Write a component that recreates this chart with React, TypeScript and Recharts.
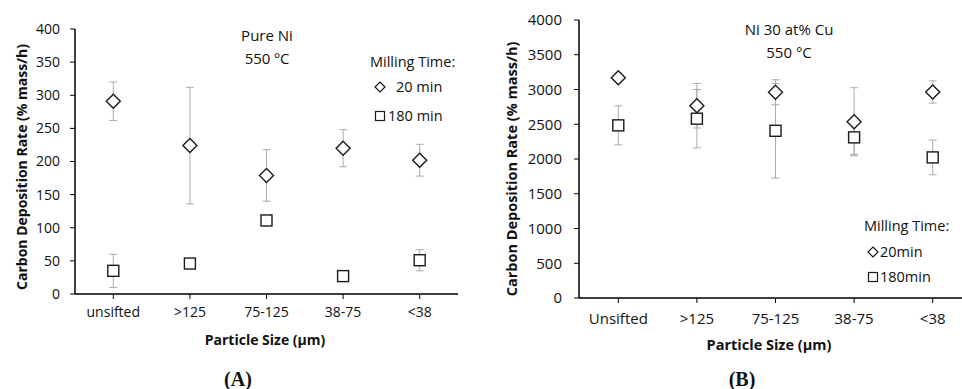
import React from 'react';
import { ComposedChart, Line, XAxis, YAxis, ErrorBar } from 'recharts';

const categoriesA = ['unsifted', '>125', '75-125', '38-75', '<38'];
const pureNi20 = [291, 224, 179, 220, 202];
const pureNi20Err = [29, 88, 39, 28, 24];
const pureNi180 = [35, 46, 111, 27, 51];
const pureNi180Err = [25, 5, 3, 3, 16];
const ticksA = [0, 50, 100, 150, 200, 250, 300, 350, 400];

const categoriesB = ['Unsifted', '>125', '75-125', '38-75', '<38'];
const niCu20 = [3170, 2766, 2960, 2536, 2964];
const niCu20Err = [0, 320, 180, 490, 160];
const niCu180 = [2484, 2580, 2406, 2311, 2023];
const niCu180Err = [280, 420, 680, 245, 250];
const ticksB = [0, 500, 1000, 1500, 2000, 2500, 3000, 3500, 4000];

const dataA = categoriesA.map((c, i) => ({
  cat: c,
  v20: pureNi20[i],
  e20: pureNi20Err[i],
  v180: pureNi180[i],
  e180: pureNi180Err[i],
}));

const dataB = categoriesB.map((c, i) => ({
  cat: c,
  v20: niCu20[i],
  e20: niCu20Err[i],
  v180: niCu180[i],
  e180: niCu180Err[i],
}));

const FONT = '"Open Sans", Lato, sans-serif';
const MARK = '#1a1a1a';
const ERR = '#ababab';

const Diamond = (props: any) => {
  const { cx, cy, index } = props;
  if (cx == null || cy == null) return <g key={`d${index}`} />;
  const r = 7;
  return (
    <path
      key={`d${index}`}
      d={`M${cx},${cy - r} L${cx + r},${cy} L${cx},${cy + r} L${cx - r},${cy} Z`}
      fill="#fff"
      stroke={MARK}
      strokeWidth={1.4}
    />
  );
};

const Square = (props: any) => {
  const { cx, cy, index } = props;
  if (cx == null || cy == null) return <g key={`s${index}`} />;
  const h = 5.5;
  return (
    <rect
      key={`s${index}`}
      x={cx - h}
      y={cy - h}
      width={h * 2}
      height={h * 2}
      fill="#fff"
      stroke={MARK}
      strokeWidth={1.4}
    />
  );
};

const axisLine = { stroke: '#000', strokeWidth: 1.5 };
const tickLine = { stroke: '#000', strokeWidth: 1 };

export default function App() {
  return (
    <div
      style={{
        position: 'absolute',
        left: 0,
        top: 0,
        width: 962,
        height: 389,
        overflow: 'hidden',
        background: '#fff',
        fontFamily: FONT,
      }}
    >
      <div style={{ position: 'absolute', left: 0, top: 0 }}>
        <ComposedChart
          width={480}
          height={389}
          data={dataA}
          margin={{ top: 29, right: 22, bottom: 65, left: 0 }}
        >
          <XAxis
            dataKey="cat"
            scale="band"
            interval={0}
            height={30}
            axisLine={axisLine}
            tickLine={tickLine}
            tickSize={5}
            tickMargin={8}
            tick={{ fontSize: 14, fill: '#111', fontFamily: FONT }}
          />
          <YAxis
            width={75}
            domain={[0, 400]}
            ticks={ticksA}
            interval={0}
            axisLine={axisLine}
            tickLine={tickLine}
            tickSize={5}
            tickMargin={10}
            tick={{ fontSize: 14, fill: '#111', fontFamily: FONT }}
          />
          <Line
            dataKey="v180"
            stroke="none"
            isAnimationActive={false}
            dot={<Square />}
            activeDot={false}
          >
            <ErrorBar dataKey="e180" direction="y" width={4} stroke={ERR} strokeWidth={1} />
          </Line>
          <Line
            dataKey="v20"
            stroke="none"
            isAnimationActive={false}
            dot={<Diamond />}
            activeDot={false}
          >
            <ErrorBar dataKey="e20" direction="y" width={4} stroke={ERR} strokeWidth={1} />
          </Line>
        </ComposedChart>
      </div>

      <div style={{ position: 'absolute', left: 480, top: 0 }}>
        <ComposedChart
          width={500}
          height={389}
          data={dataB}
          margin={{ top: 20, right: 8, bottom: 61, left: 0 }}
        >
          <XAxis
            dataKey="cat"
            scale="band"
            interval={0}
            height={30}
            axisLine={axisLine}
            tickLine={tickLine}
            tickSize={5}
            tickMargin={10}
            tick={{ fontSize: 15, fill: '#111', fontFamily: FONT }}
          />
          <YAxis
            width={99}
            domain={[0, 4000]}
            ticks={ticksB}
            interval={0}
            axisLine={axisLine}
            tickLine={tickLine}
            tickSize={5}
            tickMargin={12}
            tick={{ fontSize: 15, fill: '#111', fontFamily: FONT }}
          />
          <Line
            dataKey="v180"
            stroke="none"
            isAnimationActive={false}
            dot={<Square />}
            activeDot={false}
          >
            <ErrorBar dataKey="e180" direction="y" width={4} stroke={ERR} strokeWidth={1} />
          </Line>
          <Line
            dataKey="v20"
            stroke="none"
            isAnimationActive={false}
            dot={<Diamond />}
            activeDot={false}
          >
            <ErrorBar dataKey="e20" direction="y" width={4} stroke={ERR} strokeWidth={1} />
          </Line>
        </ComposedChart>
      </div>

      <svg
        width={962}
        height={389}
        style={{ position: 'absolute', left: 0, top: 0, pointerEvents: 'none' }}
      >
        <g fontFamily={FONT} fill="#111">
          {/* Panel A */}
          <text x={267} y={41} fontSize={15} textAnchor="middle">Pure Ni</text>
          <text x={267} y={64} fontSize={15} textAnchor="middle">550 ºC</text>
          <text x={370} y={67} fontSize={14.5}>Milling Time:</text>
          <path d="M380,82 L385,87 L380,92 L375,87 Z" fill="#fff" stroke={MARK} strokeWidth={1.2} />
          <text x={396} y={92} fontSize={14.5}>20 min</text>
          <rect x={375.5} y={111.5} width={9} height={9} fill="#fff" stroke={MARK} strokeWidth={1.2} />
          <text x={388} y={121} fontSize={14.5}>180 min</text>
          <text
            x={21}
            y={167}
            fontSize={14}
            fontWeight="bold"
            textAnchor="middle"
            dominantBaseline="central"
            transform="rotate(-90 21 167)"
          >
            Carbon Deposition Rate (% mass/h)
          </text>
          <text x={265} y={345} fontSize={14} fontWeight="bold" textAnchor="middle">
            Particle Size (μm)
          </text>
          <text
            x={238}
            y={386}
            fontSize={20}
            fontWeight="bold"
            textAnchor="middle"
            fontFamily='"Liberation Serif", "DejaVu Serif", serif'
          >
            (A)
          </text>

          {/* Panel B */}
          <text x={789} y={35} fontSize={15} textAnchor="middle">Ni 30 at% Cu</text>
          <text x={789} y={58} fontSize={15} textAnchor="middle">550 °C</text>
          <text x={864} y={231} fontSize={14.5}>Milling Time:</text>
          <path d="M873,247 L878,252 L873,257 L868,252 Z" fill="#fff" stroke={MARK} strokeWidth={1.2} />
          <text x={880} y={257} fontSize={14.5}>20min</text>
          <rect x={868.5} y={272.5} width={9} height={9} fill="#fff" stroke={MARK} strokeWidth={1.2} />
          <text x={880} y={282} fontSize={14.5}>180min</text>
          <text
            x={511}
            y={169}
            fontSize={14.5}
            fontWeight="bold"
            textAnchor="middle"
            dominantBaseline="central"
            transform="rotate(-90 511 169)"
          >
            Carbon Deposition Rate (% mass/h)
          </text>
          <text x={769} y={350} fontSize={14.5} fontWeight="bold" textAnchor="middle">
            Particle Size (μm)
          </text>
          <text
            x={742}
            y={386}
            fontSize={20}
            fontWeight="bold"
            textAnchor="middle"
            fontFamily='"Liberation Serif", "DejaVu Serif", serif'
          >
            (B)
          </text>
        </g>
      </svg>
    </div>
  );
}
